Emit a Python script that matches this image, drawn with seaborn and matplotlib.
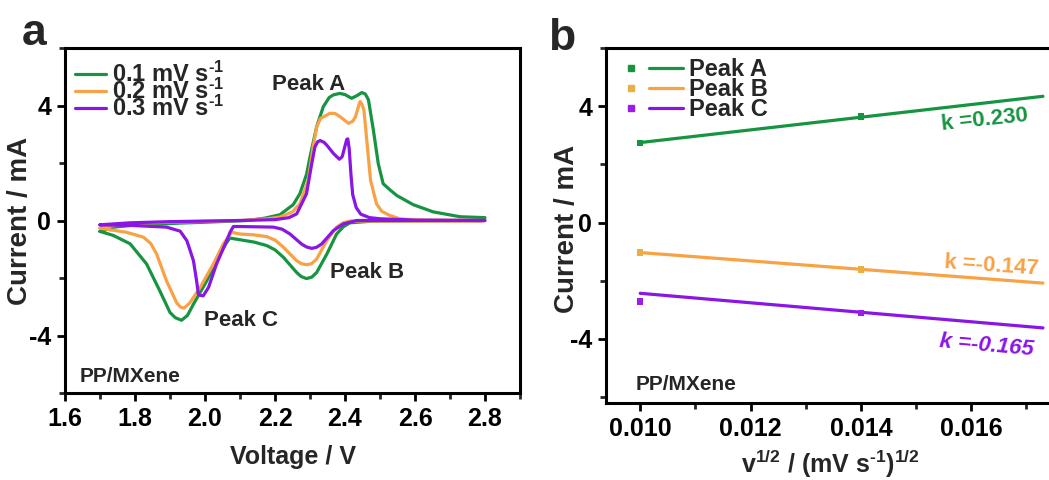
import matplotlib
matplotlib.use('Agg')
import matplotlib.pyplot as plt
from matplotlib.lines import Line2D
from matplotlib.legend_handler import HandlerTuple
from matplotlib.ticker import MultipleLocator
import seaborn as sns

# ---------------------- DATA -----------------------

# (a) CV loops: forward sweep 1.7 -> 2.8 V, then back to 1.7 V
v_01 = [1.70, 1.74, 1.80, 1.93, 2.00, 2.12, 2.17, 2.214, 2.252, 2.271, 2.29, 2.30, 2.319, 2.338, 2.355,
        2.367, 2.385, 2.40, 2.419, 2.435, 2.448, 2.458, 2.467, 2.481, 2.495, 2.509, 2.53, 2.548, 2.595,
        2.652, 2.729, 2.80,
        2.79, 2.60, 2.48, 2.414, 2.395, 2.376, 2.348, 2.319, 2.305, 2.29, 2.275, 2.262, 2.224, 2.20,
        2.176, 2.14, 2.10, 2.071, 2.06, 2.043, 2.005, 1.967, 1.95, 1.933, 1.915, 1.90, 1.871, 1.833,
        1.786, 1.738, 1.70]
i_01 = [-0.38, -0.23, -0.16, -0.09, -0.06, 0.0, 0.08, 0.20, 0.55, 0.93, 1.6, 2.21, 3.26, 3.96, 4.28,
        4.37, 4.42, 4.38, 4.25, 4.35, 4.45, 4.40, 4.2, 3.15, 1.98, 1.28, 1.05, 0.87, 0.55,
        0.30, 0.13, 0.10,
        0.0, -0.01, -0.02, -0.08, -0.22, -0.47, -1.17, -1.81, -1.97, -2.02, -1.95, -1.81, -1.28, -1.02,
        -0.87, -0.75, -0.67, -0.61, -0.8, -1.17, -2.1, -2.91, -3.3, -3.47, -3.38, -3.2, -2.45, -1.51,
        -0.81, -0.52, -0.38]

v_02 = [1.70, 1.75, 1.80, 1.90, 2.00, 2.10, 2.18, 2.214, 2.25, 2.271, 2.295, 2.309, 2.319, 2.33, 2.357,
        2.372, 2.386, 2.41, 2.422, 2.43, 2.438, 2.443, 2.448, 2.454, 2.464, 2.473, 2.49, 2.505, 2.529,
        2.557, 2.60, 2.80,
        2.79, 2.45, 2.414, 2.395, 2.376, 2.348, 2.319, 2.305, 2.29, 2.275, 2.262, 2.224, 2.20, 2.176,
        2.14, 2.10, 2.076, 2.065, 2.052, 2.024, 1.986, 1.957, 1.94, 1.929, 1.919, 1.89, 1.862, 1.845,
        1.824, 1.776, 1.70]
i_02 = [-0.27, -0.15, -0.10, -0.06, -0.03, 0.0, 0.06, 0.12, 0.30, 0.58, 1.4, 2.56, 3.26, 3.55, 3.73,
        3.72, 3.61, 3.38, 3.45, 3.61, 3.95, 4.14, 4.05, 3.85, 2.56, 1.4, 0.58, 0.32, 0.17,
        0.06, 0.02, 0.0,
        -0.02, -0.02, -0.02, -0.08, -0.23, -0.70, -1.34, -1.50, -1.54, -1.50, -1.40, -0.93, -0.68, -0.56,
        -0.50, -0.47, -0.41, -0.60, -0.82, -1.51, -2.33, -2.86, -3.05, -3.0, -2.86, -2.1, -1.17, -0.8,
        -0.58, -0.41, -0.27]

v_03 = [1.70, 1.786, 1.90, 2.00, 2.10, 2.20, 2.24, 2.262, 2.29, 2.305, 2.314, 2.322, 2.329, 2.34, 2.348,
        2.367, 2.384, 2.392, 2.398, 2.405, 2.408, 2.412, 2.417, 2.422, 2.432, 2.445, 2.47, 2.50, 2.60,
        2.80,
        2.79, 2.433, 2.395, 2.367, 2.333, 2.319, 2.305, 2.29, 2.276, 2.243, 2.22, 2.195, 2.10, 2.081,
        2.072, 2.062, 2.033, 2.01, 1.995, 1.985, 1.981, 1.976, 1.967, 1.955, 1.948, 1.929, 1.89, 1.786,
        1.70]
i_03 = [-0.15, -0.08, -0.04, -0.02, 0.0, 0.03, 0.10, 0.23, 0.93, 1.98, 2.56, 2.74, 2.78, 2.72, 2.62,
        2.33, 2.13, 2.22, 2.5, 2.82, 2.84, 2.5, 1.6, 0.9, 0.45, 0.22, 0.1, 0.06, 0.01,
        0.0,
        0.0, 0.0, -0.12, -0.35, -0.82, -0.93, -0.97, -0.92, -0.82, -0.47, -0.3, -0.23, -0.21, -0.21,
        -0.4, -0.70, -1.51, -2.33, -2.62, -2.6, -2.56, -2.1, -1.40, -0.95, -0.70, -0.37, -0.23, -0.17,
        -0.15]

scan_labels = [r'0.1 mV s$^{\text{-}1}$', r'0.2 mV s$^{\text{-}1}$', r'0.3 mV s$^{\text{-}1}$']

# (b) peak currents vs square root of scan rate
peak_x = [0.010, 0.014]
peak_a = [2.73, 3.65]
peak_b = [-1.03, -1.61]
peak_c = [-2.72, -3.11]
fit_x = [0.010, 0.0173]
fit_a = [2.75, 4.34]
fit_b = [-1.03, -2.08]
fit_c = [-2.43, -3.62]
peak_labels = ['Peak A', 'Peak B', 'Peak C']
k_labels = ['k =0.230', 'k =-0.147', 'k =-0.165']

# ---------------------- STYLE -----------------------
sns.set_theme(style='ticks')
plt.rcParams['font.family'] = ['Liberation Sans', 'DejaVu Sans']
plt.rcParams['font.weight'] = 'bold'
plt.rcParams['axes.labelweight'] = 'bold'
plt.rcParams['axes.unicode_minus'] = False
plt.rcParams['mathtext.fontset'] = 'custom'
plt.rcParams['mathtext.rm'] = 'Liberation Sans:bold'
plt.rcParams['mathtext.bf'] = 'Liberation Sans:bold'
plt.rcParams['mathtext.it'] = 'Liberation Sans:bold:italic'
plt.rcParams['mathtext.default'] = 'bf'

green = '#179442'
orange = '#f8a145'
purple = '#8a16e6'
colors = [green, orange, purple]
marker_colors = ['#179442', '#e8b040', '#9a1ee8']

fig = plt.figure(figsize=(10.49, 4.8), dpi=100)
ax1 = fig.add_axes([65 / 1049, 87 / 480, 455 / 1049, 345 / 480])
ax2 = fig.add_axes([606 / 1049, 77 / 480, 448 / 1049, 355 / 480])


def style_axes(ax):
    for sp in ax.spines.values():
        sp.set_linewidth(2.2)
        sp.set_color('black')
    ax.tick_params(which='major', direction='out', length=6, width=2, labelsize=18, pad=4,
                   top=False, right=False, colors='black')
    ax.tick_params(which='minor', direction='out', length=4, width=2, top=False, right=False)
    for lab in ax.get_xticklabels() + ax.get_yticklabels():
        lab.set_fontweight('bold')


# ---------------------- (a) CV -----------------------
for v, i, c in zip([v_01, v_02, v_03], [i_01, i_02, i_03], colors):
    sns.lineplot(x=v, y=i, sort=False, estimator=None, color=c, lw=2.3, ax=ax1)

ax1.set_xlim(1.6, 2.9)
ax1.set_ylim(-6, 6)
ax1.xaxis.set_minor_locator(MultipleLocator(0.1))
ax1.yaxis.set_minor_locator(MultipleLocator(2))
ax1.set_xticks([1.6, 1.8, 2.0, 2.2, 2.4, 2.6, 2.8])
ax1.set_xticklabels(['1.6', '1.8', '2.0', '2.2', '2.4', '2.6', '2.8'])
ax1.set_yticks([-4, 0, 4])
ax1.set_yticklabels(['-4', '0', '4'])
ax1.set_xlabel('Voltage / V', fontsize=18, fontweight='bold', labelpad=10)
ax1.set_ylabel('Current / mA', fontsize=20, fontweight='bold')
ax1.yaxis.set_label_coords(-0.07, 0.5)
style_axes(ax1)

handles_a = [Line2D([], [], color=c, lw=2.3) for c in colors]
ax1.legend(handles_a, scan_labels, loc='upper left', bbox_to_anchor=(-0.01, 1.0), frameon=False,
           fontsize=17, labelspacing=-0.35, handlelength=1.35, handletextpad=0.25, borderaxespad=0.2)

ax1.text(2.191, 4.55, 'Peak A', fontsize=16, fontweight='bold')
ax1.text(2.357, -1.99, 'Peak B', fontsize=16, fontweight='bold')
ax1.text(1.997, -3.67, 'Peak C', fontsize=16, fontweight='bold')
ax1.text(1.643, -5.6, 'PP/MXene', fontsize=15, fontweight='bold')

# ---------------------- (b) peak current -----------------------
for pts, fit, c, mc in zip([peak_a, peak_b, peak_c], [fit_a, fit_b, fit_c], colors, marker_colors):
    sns.lineplot(x=fit_x, y=fit, sort=False, estimator=None, color=c, lw=2.3, ax=ax2)
    sns.scatterplot(x=peak_x, y=pts, marker='s', s=22, color=mc, edgecolor='none', ax=ax2, zorder=3)

ax2.set_xlim(0.00938, 0.0175)
ax2.set_ylim(-6.2, 6)
ax2.set_xticks([0.010, 0.012, 0.014, 0.016])
ax2.set_xticklabels(['0.010', '0.012', '0.014', '0.016'])
ax2.xaxis.set_minor_locator(MultipleLocator(0.001))
ax2.set_yticks([-4, 0, 4])
ax2.set_yticklabels(['-4', '0', '4'])
ax2.yaxis.set_minor_locator(MultipleLocator(2))
ax2.set_xlabel(r'v$^{1/2}$ / (mV s$^{\text{-}1}$)$^{1/2}$', fontsize=18, fontweight='bold', labelpad=5)
ax2.set_ylabel('Current / mA', fontsize=20, fontweight='bold')
ax2.yaxis.set_label_coords(-0.058, 0.49)
style_axes(ax2)

handles_b = []
for c, mc in zip(colors, marker_colors):
    m = Line2D([], [], ls='none', marker='s', ms=4, color=mc)
    ln = Line2D([], [], color=c, lw=2.3)
    handles_b.append((m, ln))
ax2.legend(handles_b, peak_labels, handler_map={tuple: HandlerTuple(ndivide=None, pad=0)},
           loc='upper left', bbox_to_anchor=(-0.013, 1.011), frameon=False, fontsize=17,
           labelspacing=-0.13, handlelength=2.9, handletextpad=0.25, borderaxespad=0.2)

ax2.text(0.01547, 3.18, k_labels[0], color=green, fontsize=16, fontweight='bold',
         rotation=6, rotation_mode='anchor', ha='left', va='baseline')
ax2.text(0.0155, -1.57, k_labels[1], color=orange, fontsize=16, fontweight='bold',
         rotation=-4, rotation_mode='anchor', ha='left', va='baseline')
ax2.text(0.01542, -4.27, k_labels[2], color=purple, fontsize=16, fontweight='bold', style='italic',
         rotation=-5, rotation_mode='anchor', ha='left', va='baseline')
ax2.text(0.00991, -5.74, 'PP/MXene', fontsize=15, fontweight='bold')

fig.text(22 / 1049, 1 - 45 / 480, 'a', fontsize=32, fontweight='bold')
fig.text(548 / 1049, 1 - 50 / 480, 'b', fontsize=32, fontweight='bold')

fig.savefig('out.png', dpi=100)
